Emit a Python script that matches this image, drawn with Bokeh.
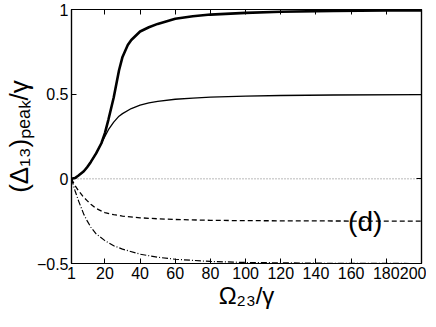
from bokeh.plotting import figure
from bokeh.models import Range1d, FixedTicker, LinearAxis, Label
from bokeh.embed import file_html
from bokeh.resources import INLINE

# Data
x_thick = [1, 3, 5, 8, 10, 12, 15, 18, 20, 22, 25, 28, 30, 33, 35, 40, 45, 50, 60, 70, 80, 100, 120, 150, 180, 200]
y_thick = [0, 0.005, 0.02, 0.045, 0.07, 0.1, 0.15, 0.21, 0.27, 0.35, 0.48, 0.64, 0.72, 0.79, 0.82, 0.87, 0.895, 0.915, 0.945, 0.96, 0.97, 0.98, 0.987, 0.992, 0.994, 0.995]

x_thin = [1, 3, 5, 8, 10, 12, 15, 18, 20, 22, 25, 28, 30, 35, 40, 45, 50, 60, 70, 80, 100, 120, 150, 200]
y_thin = [0, 0.005, 0.02, 0.045, 0.07, 0.1, 0.15, 0.21, 0.25, 0.29, 0.335, 0.37, 0.385, 0.415, 0.435, 0.448, 0.458, 0.47, 0.477, 0.482, 0.488, 0.492, 0.495, 0.497]

x_dotted = [1, 200]
y_dotted = [0, 0]

x_dashed = [1, 3, 5, 8, 10, 12, 15, 20, 25, 30, 40, 50, 60, 80, 100, 150, 200]
y_dashed = [0, -0.04, -0.07, -0.11, -0.13, -0.15, -0.175, -0.2, -0.212, -0.22, -0.23, -0.236, -0.24, -0.245, -0.247, -0.249, -0.25]

x_dashdot = [1, 2, 3, 5, 8, 10, 12, 15, 20, 25, 30, 40, 50, 60, 80, 100, 150, 200]
y_dashdot = [0, -0.035, -0.07, -0.13, -0.21, -0.25, -0.285, -0.325, -0.365, -0.395, -0.415, -0.445, -0.463, -0.475, -0.488, -0.494, -0.499, -0.5]

x_ticks = [1, 20, 40, 60, 80, 100, 120, 140, 160, 180, 200]
y_ticks = [-0.5, 0, 0.5, 1]
y_tick_labels = {-0.5: "\u22120.5", 0: "0", 0.5: "0.5", 1: "1"}
x_title = "\u03a9\u2082\u2083/\u03b3"
y_title = "(\u0394\u2081\u2083)\u209a\u2091\u2090\u2096/\u03b3"
panel_tag = "(d)"

FONT = "Liberation Sans"

p = figure(width=426, height=311, output_backend="svg", toolbar_location=None,
           x_range=Range1d(1, 200), y_range=Range1d(-0.5, 1),
           min_border_left=8, min_border_right=5, min_border_top=9, min_border_bottom=3)
p.xgrid.visible = False
p.ygrid.visible = False
p.outline_line_color = "black"
p.outline_line_width = 1.2
p.background_fill_color = "white"

p.line(x_dotted, y_dotted, line_color="#555555", line_width=0.8, line_dash="1 2")
p.line(x_thin, y_thin, line_color="black", line_width=1.3)
p.line(x_thick, y_thick, line_color="black", line_width=2.6)
p.line(x_dashed, y_dashed, line_color="black", line_width=1.3, line_dash="5 3")
p.line(x_dashdot, y_dashdot, line_color="black", line_width=1.2, line_dash="6 2 1 2")

for ax in (p.xaxis[0], p.yaxis[0]):
    ax.major_tick_in = 5
    ax.major_tick_out = 0
    ax.minor_tick_line_color = None
    ax.axis_line_width = 1.2
    ax.major_label_text_font = FONT
    ax.major_label_text_font_size = "16px"
    ax.major_label_text_color = "black"
    ax.major_label_text_line_height = 1.0
    ax.axis_label_text_font = FONT
    ax.axis_label_text_font_style = "normal"
    ax.axis_label_text_color = "black"
    ax.axis_label_text_line_height = 1.0

p.xaxis[0].ticker = FixedTicker(ticks=x_ticks)
p.yaxis[0].ticker = FixedTicker(ticks=y_ticks)
p.yaxis[0].major_label_overrides = y_tick_labels
p.xaxis[0].major_label_standoff = 3
p.yaxis[0].major_label_standoff = 3
p.xaxis[0].axis_label = x_title
p.xaxis[0].axis_label_text_font_size = "24px"
p.xaxis[0].axis_label_standoff = 0
p.yaxis[0].axis_label = y_title
p.yaxis[0].axis_label_text_font_size = "26px"
p.yaxis[0].axis_label_standoff = 0

top = LinearAxis(ticker=FixedTicker(ticks=x_ticks), major_tick_in=5, major_tick_out=0,
                 minor_tick_line_color=None, axis_line_width=1.2,
                 major_label_overrides={t: "" for t in x_ticks}, major_label_standoff=0)
right = LinearAxis(ticker=FixedTicker(ticks=y_ticks), major_tick_in=5, major_tick_out=0,
                   minor_tick_line_color=None, axis_line_width=1.2,
                   major_label_overrides={t: "" for t in y_ticks}, major_label_standoff=0)
p.add_layout(top, "above")
p.add_layout(right, "right")

p.add_layout(Label(x=168, y=-0.25, text=panel_tag, text_font=FONT, text_font_size="28px",
                   text_align="center", text_baseline="middle", text_color="black"))

open("out.html", "w").write(file_html(p, INLINE))
